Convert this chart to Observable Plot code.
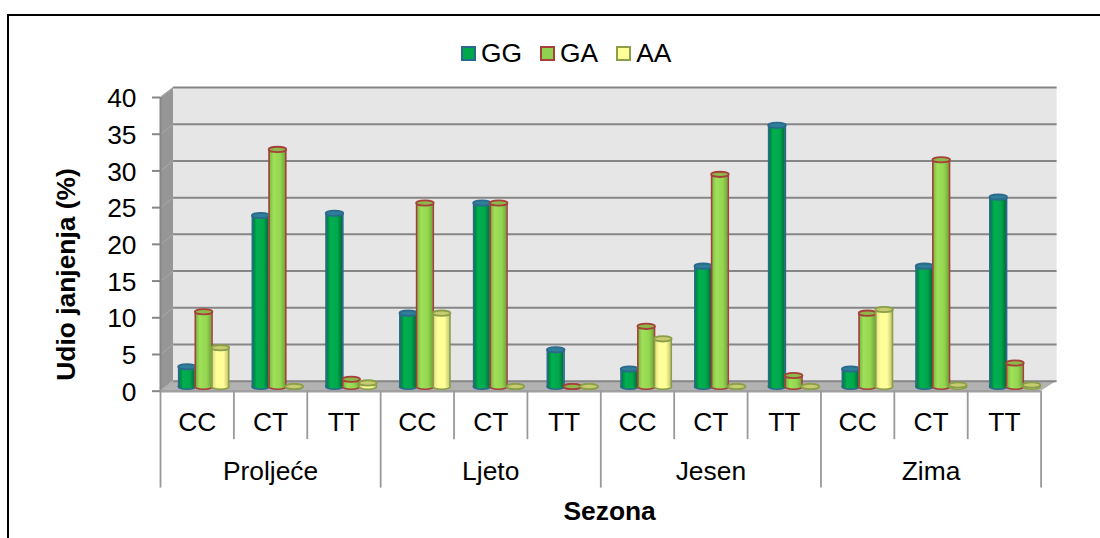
<!DOCTYPE html>
<html><head><meta charset="utf-8">
<script src="https://cdn.jsdelivr.net/npm/d3@7"></script>
<script src="https://cdn.jsdelivr.net/npm/@observablehq/plot@0.6"></script>
<style>
html,body{margin:0;padding:0;background:#fff;overflow:hidden}
#frame{position:absolute;left:7px;top:14px;width:1200px;height:600px;border:2px solid #000;box-sizing:border-box}
#chart{position:absolute;left:0;top:0}
#legend{position:absolute;top:39px;left:461px;display:flex;align-items:center;font:26.4px "Liberation Sans",Arial,sans-serif;color:#000;line-height:28px}
#legend i{display:inline-block;width:11px;height:11px;border:2px solid;margin-right:5px}
#legend span{display:flex;align-items:center;margin-right:18px}
</style></head><body>
<div id="frame"></div>
<div id="chart"></div>
<div id="legend"></div>
<script>
const seasons = ["Proljeće","Ljeto","Jesen","Zima"];
const genotypes = ["CC","CT","TT"];
const seriesNames = ["GG","GA","AA"];
const GG = [2.7,23.3,23.6, 10,25,5, 2.4,16.4,35.6, 2.4,16.4,25.8];
const GA = [10.2,32.3,1, 25,25,0, 8.2,28.9,1.5, 10,30.9,3.2];
const AA = [5.3,0,0.5, 10,0,0, 6.5,0,0, 10.5,0.2,0.2];
const yTicks = [0,5,10,15,20,25,30,35,40];

const styles = {
  GG:{id:"gGG",stops:["#00703c","#00b050","#00a84c","#006a38"],edge:"#2a6a8c",top:"#2f7f9a",swatch:"#00a84c"},
  GA:{id:"gGA",stops:["#74b03c","#a0e05a","#94d650","#6ea838"],edge:"#a5403a",top:"#8fb84a",swatch:"#92d050"},
  AA:{id:"gAA",stops:["#d8d878","#ffff99","#ffff99","#c8c870"],edge:"#8b9f48",top:"#c8cc70",swatch:"#ffff99"}
};
const values = {GG,GA,AA};
const depthX = 13/73.4, depthXR = 16/73.4, depthY = 10/7.34;  // depth of the 3D box, in data units
const barW = 0.2275, stretch = 1.005;
const midX = depthX/2, midY = depthY/2 - 0.05;

const cats = d3.range(12).map(i=>({i,label:genotypes[i%3],c:i+0.5}));
const groups = seasons.map((s,k)=>({s,c:k*3+1.5}));
const rows = s => values[s].map((v,i)=>({i,v,c:i*stretch+0.5+(seriesNames.indexOf(s)-1)*barW+midX}));

const ell = {draw(ctx,size){
  const rx=Math.sqrt(size/Math.PI), ry=rx*0.3, k=0.5523;
  ctx.moveTo(-rx,0);
  ctx.bezierCurveTo(-rx,-k*ry,-k*rx,-ry,0,-ry);
  ctx.bezierCurveTo(k*rx,-ry,rx,-k*ry,rx,0);
  ctx.bezierCurveTo(rx,k*ry,k*rx,ry,0,ry);
  ctx.bezierCurveTo(-k*rx,ry,-rx,k*ry,-rx,0);
  ctx.closePath();
}};

const defsMark = () => {
  const d = d3.create("svg:defs");
  for (const s of seriesNames){
    const g = d.append("linearGradient").attr("id",styles[s].id).attr("x1",0).attr("x2",1).attr("y1",0).attr("y2",0);
    styles[s].stops.forEach((c,j)=>g.append("stop").attr("offset",[0,0.3,0.7,1][j]).attr("stop-color",c));
  }
  return d.node();
};

const wallColor="#969696", floorColor="#b2b2b2", backColor="#e6e6e6", lineColor="#868686";
const barMarks = seriesNames.flatMap(s=>{
  const st=styles[s], r=rows(s), R=8.8;
  const y0=midY;
  return [
    Plot.dot(r,{x:"c",y:()=>y0,symbol:ell,r:R,fill:`url(#${st.id})`,stroke:st.edge,strokeWidth:1.6}),
    Plot.rect(r,{x1:d=>d.c-barW/2,x2:d=>d.c+barW/2,y1:()=>y0,y2:d=>y0+d.v,fill:`url(#${st.id})`}),
    Plot.ruleX(r,{x:d=>d.c-barW/2,y1:()=>y0,y2:d=>y0+d.v,stroke:st.edge,strokeWidth:1.6}),
    Plot.ruleX(r,{x:d=>d.c+barW/2,y1:()=>y0,y2:d=>y0+d.v,stroke:st.edge,strokeWidth:1.6}),
    Plot.dot(r,{x:"c",y:d=>y0+d.v,symbol:ell,r:R,fill:st.top,stroke:st.edge,strokeWidth:1.8})
  ];
});

const plot = Plot.plot({
  width:1100,height:538,marginLeft:160,marginRight:59.4,marginTop:97,marginBottom:147.3,
  style:{background:"transparent",fontFamily:'"Liberation Sans",Arial,sans-serif',color:"#000",overflow:"visible"},
  x:{type:"linear",domain:[0,12],axis:null},
  y:{type:"linear",domain:[0,40],axis:null},
  marks:[
    defsMark,
    Plot.rect([0],{x1:()=>depthX,x2:()=>12+depthXR,y1:()=>depthY,y2:()=>40+depthY,fill:backColor}),
    Plot.area([[0,0,40],[depthX,depthY,40+depthY]],{x1:d=>d[0],x2:d=>d[0],y1:d=>d[1],y2:d=>d[2],fill:wallColor}),
    Plot.area([[0,0,12],[depthX,depthY,12+depthXR]],{x1:d=>d[0],y1:d=>d[1],x2:d=>d[2],y2:d=>d[1],fill:floorColor}),
    Plot.ruleY(yTicks,{y:d=>d+depthY,x1:()=>depthX,x2:()=>12+depthXR,stroke:lineColor,strokeWidth:2}),
    Plot.link(yTicks,{x1:()=>0,y1:d=>d,x2:()=>depthX,y2:d=>d+depthY,stroke:"#a8a8a8",strokeWidth:1}),
    ...barMarks,
    Plot.ruleX([0],{x:()=>0,y1:()=>0,y2:()=>40,stroke:lineColor,strokeWidth:2}),
    Plot.axisY({ticks:yTicks,tickSize:8,stroke:lineColor,strokeWidth:2,label:null,tickFormat:()=>""}),
    Plot.text(yTicks,{x:()=>0,y:d=>d,text:d=>String(d),dx:-24,dy:1.2,textAnchor:"end",fontSize:26.4,fill:"#000"}),
    Plot.text(["Udio janjenja (%)"],{text:d=>d,x:()=>0,y:()=>15.9,dx:-94,rotate:-90,fontSize:26.4,fontWeight:"bold",fill:"#000"}),
    Plot.ruleY([0],{y:()=>0,x1:()=>0,x2:()=>12,stroke:"#a0a0a0",strokeWidth:2.5}),
    Plot.ruleX(d3.range(13).filter(i=>i%3),{x:d=>d,y1:()=>0,y2:()=>-6.6,stroke:"#999",strokeWidth:1.8}),
    Plot.ruleX(d3.range(0,13,3),{x:d=>d,y1:()=>0,y2:()=>-13.2,stroke:"#999",strokeWidth:1.8}),
    Plot.text(cats,{x:"c",y:()=>0,text:"label",dy:31,fontSize:26.4,fill:"#000"}),
    Plot.text(groups,{x:"c",y:()=>0,text:"s",dy:80,fontSize:26.4,fill:"#000"}),
    Plot.text(["Sezona"],{text:d=>d,x:()=>6.12,y:()=>0,dy:120,fontSize:26.4,fontWeight:"bold",fill:"#000"})
  ]
});
document.getElementById("chart").append(plot);
const lg=document.getElementById("legend");
for(const s of seriesNames){
  const sp=document.createElement("span");
  const i=document.createElement("i");
  i.style.background=styles[s].swatch;
  i.style.borderColor=styles[s].edge;
  sp.append(i,document.createTextNode(s));
  lg.append(sp);
}
</script></body></html>
